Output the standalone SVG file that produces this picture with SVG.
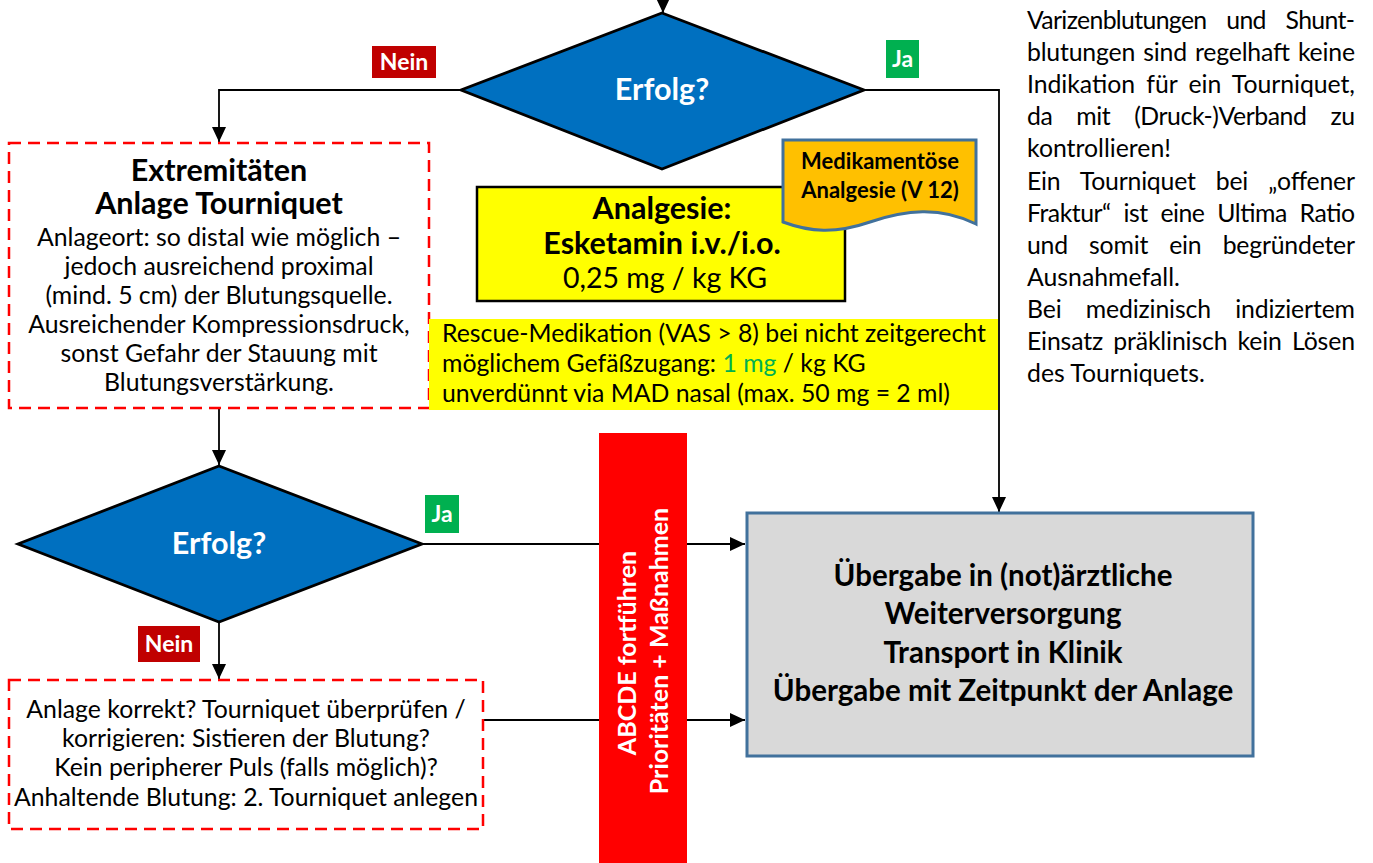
<svg xmlns="http://www.w3.org/2000/svg" width="1373" height="863" viewBox="0 0 1373 863">
  <style>
    text { font-family: Lato, "Liberation Sans", sans-serif; fill: #000; }
    .b { font-weight: bold; }
    .w { fill: #fff; }
    .c { text-anchor: middle; }
    .body { font-size: 24.8px; }
    .head { font-size: 30.5px; font-weight: bold; }
    .lbl { font-size: 23px; font-weight: bold; fill: #fff; text-anchor: middle; }
    .dash { fill: #fff; stroke: #ff0000; stroke-width: 2.5; stroke-dasharray: 12 7; }
    .dia { fill: #0070c0; stroke: #000; stroke-width: 2.8; stroke-linejoin: miter; }
    .conn { fill: none; stroke: #000; stroke-width: 1.8; }
    .nein { fill: #c00000; }
    .ja { fill: #00b050; }
  </style>
  <defs>
    <marker id="arr" viewBox="0 0 15 14" refX="15" refY="7" markerWidth="15" markerHeight="14" markerUnits="userSpaceOnUse" orient="auto">
      <path d="M0,0 L15,7 L0,14 z" fill="#000"/>
    </marker>
  </defs>

  <rect width="1373" height="863" fill="#fff"/>

  <!-- connectors (drawn first so boxes and the red bar sit on top) -->
  <g id="connectors">
    <path class="conn" d="M663,-20 V13" marker-end="url(#arr)"/>
    <path class="conn" d="M461,90 H219 V142" marker-end="url(#arr)"/>
    <path class="conn" d="M864,90 H999 V512" marker-end="url(#arr)"/>
    <path class="conn" d="M219,408 V465" marker-end="url(#arr)"/>
    <path class="conn" d="M219,622 V679" marker-end="url(#arr)"/>
    <path class="conn" d="M422,544 H745" marker-end="url(#arr)"/>
    <path class="conn" d="M483,720 H745" marker-end="url(#arr)"/>
  </g>

  <!-- upper decision -->
  <g id="decision-top">
    <polygon class="dia" points="662,13 864,90 662,169 461,90"/>
    <text class="head w c" x="662" y="100" font-size="30">Erfolg?</text>
  </g>
  <g id="label-nein-top">
    <rect class="nein" x="372" y="46" width="64" height="32"/>
    <text class="lbl" x="404" y="70">Nein</text>
  </g>
  <g id="label-ja-top">
    <rect class="ja" x="886" y="40" width="33" height="38"/>
    <text class="lbl" x="902.5" y="67">Ja</text>
  </g>

  <!-- tourniquet application -->
  <g id="tourniquet">
    <rect class="dash" x="9" y="143" width="420" height="265"/>
    <text class="head c" x="219" y="181">Extremitäten</text>
    <text class="head c" x="219" y="214">Anlage Tourniquet</text>
    <text class="body c" x="219" y="246">Anlageort: so distal wie möglich –</text>
    <text class="body c" x="219" y="275">jedoch ausreichend proximal</text>
    <text class="body c" x="219" y="304">(mind. 5 cm) der Blutungsquelle.</text>
    <text class="body c" x="219" y="333">Ausreichender Kompressionsdruck,</text>
    <text class="body c" x="219" y="362">sonst Gefahr der Stauung mit</text>
    <text class="body c" x="219" y="391">Blutungsverstärkung.</text>
  </g>

  <!-- analgesia -->
  <g id="analgesie">
    <rect x="477" y="187" width="368" height="114" fill="#ffff00" stroke="#000" stroke-width="2.5"/>
    <text class="head c" x="662" y="219">Analgesie:</text>
    <text class="head c" x="662" y="254">Esketamin i.v./i.o.</text>
    <text class="c" x="665" y="288" font-size="28.5">0,25 mg / kg KG</text>
  </g>
  <g id="ref-v12">
    <path d="M783,140 H976 V224 C940,206 905,210 870,222 C835,234 810,232 783,222 Z" fill="#ffc000" stroke="#41719c" stroke-width="3"/>
    <text class="b c" x="880" y="169" font-size="22">Medikamentöse</text>
    <text class="b c" x="880" y="198" font-size="22">Analgesie (V 12)</text>
  </g>
  <g id="rescue">
    <rect x="429" y="319" width="569" height="91" fill="#ffff00"/>
    <text class="body" x="442" y="342">Rescue-Medikation (VAS &gt; 8) bei nicht zeitgerecht</text>
    <text class="body" x="442" y="372">möglichem Gefäßzugang: <tspan fill="#00b050">1 mg</tspan> / kg KG</text>
    <text class="body" x="442" y="402">unverdünnt via MAD nasal (max. 50 mg = 2 ml)</text>
  </g>

  <!-- lower decision -->
  <g id="decision-bottom">
    <polygon class="dia" points="219,466 422,544 219,622 18,544"/>
    <text class="head w c" x="219" y="554" font-size="30">Erfolg?</text>
  </g>
  <g id="label-ja-bottom">
    <rect class="ja" x="425" y="495" width="34" height="38"/>
    <text class="lbl" x="442" y="522">Ja</text>
  </g>
  <g id="label-nein-bottom">
    <rect class="nein" x="138" y="626" width="62" height="36"/>
    <text class="lbl" x="169" y="652">Nein</text>
  </g>

  <!-- re-check -->
  <g id="recheck">
    <rect class="dash" x="9" y="680" width="474" height="149"/>
    <text class="body c" x="246" y="718">Anlage korrekt? Tourniquet überprüfen /</text>
    <text class="body c" x="246" y="747">korrigieren: Sistieren der Blutung?</text>
    <text class="body c" x="246" y="776">Kein peripherer Puls (falls möglich)?</text>
    <text class="body c" x="246" y="806">Anhaltende Blutung: 2. Tourniquet anlegen</text>
  </g>

  <!-- ABCDE bar -->
  <g id="abcde">
    <rect x="599" y="433" width="88" height="440" fill="#ff0000"/>
    <text class="b w c" font-size="25" transform="translate(636,653) rotate(-90)">ABCDE fortführen</text>
    <text class="b w c" font-size="25" transform="translate(668,651) rotate(-90)">Prioritäten + Maßnahmen</text>
  </g>

  <!-- handover -->
  <g id="handover" font-size="29.5">
    <rect x="747" y="513" width="506" height="243" fill="#d9d9d9" stroke="#41719c" stroke-width="3"/>
    <text class="b c" x="1003" y="586">Übergabe in (not)ärztliche</text>
    <text class="b c" x="1003" y="624">Weiterversorgung</text>
    <text class="b c" x="1003" y="663">Transport in Klinik</text>
    <text class="b c" x="1003" y="701">Übergabe mit Zeitpunkt der Anlage</text>
  </g>

  <!-- side note: justified lines use word spacing plus a fixed line length -->
  <g id="note" class="body">
    <text x="1027" y="29" textLength="328" lengthAdjust="spacing" word-spacing="14">Varizenblutungen und Shunt-</text>
    <text x="1027" y="61" textLength="328" lengthAdjust="spacing" word-spacing="2">blutungen sind regelhaft keine</text>
    <text x="1027" y="93" textLength="328" lengthAdjust="spacing" word-spacing="5">Indikation für ein Tourniquet,</text>
    <text x="1027" y="125" textLength="328" lengthAdjust="spacing" word-spacing="18">da mit (Druck-)Verband zu</text>
    <text x="1027" y="157">kontrollieren!</text>
    <text x="1027" y="190" textLength="328" lengthAdjust="spacing" word-spacing="14">Ein Tourniquet bei „offener</text>
    <text x="1027" y="222" textLength="328" lengthAdjust="spacing" word-spacing="7">Fraktur“ ist eine Ultima Ratio</text>
    <text x="1027" y="254" textLength="328" lengthAdjust="spacing" word-spacing="15">und somit ein begründeter</text>
    <text x="1027" y="286">Ausnahmefall.</text>
    <text x="1027" y="318" textLength="328" lengthAdjust="spacing" word-spacing="18">Bei medizinisch indiziertem</text>
    <text x="1027" y="350" textLength="328" lengthAdjust="spacing" word-spacing="4">Einsatz präklinisch kein Lösen</text>
    <text x="1027" y="382">des Tourniquets.</text>
  </g>
</svg>
